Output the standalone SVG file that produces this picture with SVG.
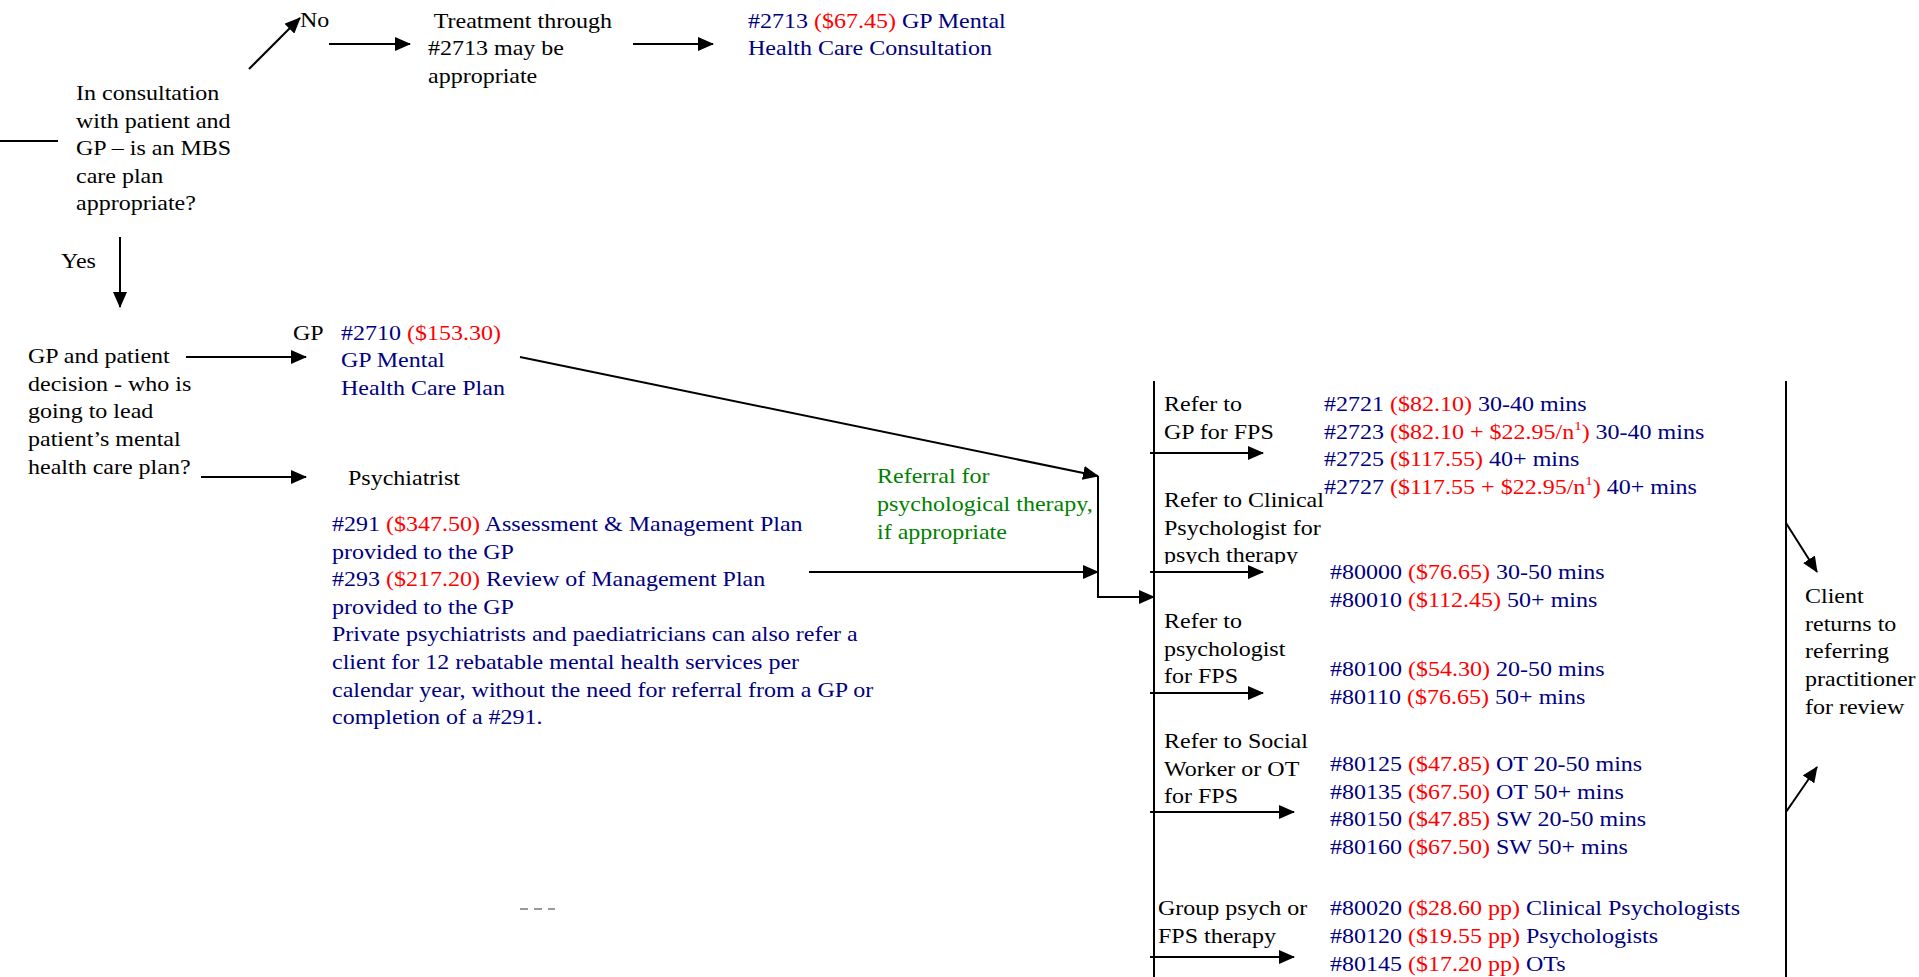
<svg xmlns="http://www.w3.org/2000/svg" width="1919" height="977" viewBox="0 0 1919 977">
<defs>
<style>
text{font-family:"Liberation Serif","Times New Roman",serif;font-size:21px;fill:#000}
.b{fill:#000080}.r{fill:#ff0000}.g{fill:#008000}.k{fill:#000}
.ln{stroke:#000;stroke-width:2;fill:none}
.ar{stroke:#000;stroke-width:2;fill:none;marker-end:url(#ah)}
.sup{font-size:13px}
</style>
<marker id="ah" markerUnits="userSpaceOnUse" markerWidth="16" markerHeight="14" refX="15" refY="7" orient="auto">
<path d="M0,0 L16,7 L0,14 z" fill="#000"/>
</marker>
<clipPath id="clipClin" clipPathUnits="userSpaceOnUse"><rect x="1150" y="480" width="200" height="84"/></clipPath>
</defs>
<rect width="1919" height="977" fill="#fff"/>

<g id="connectors">
<line class="ln" x1="0" y1="141" x2="58" y2="141"/>
<line class="ar" x1="249" y1="69" x2="300" y2="18"/>
<line class="ar" x1="329" y1="44" x2="410" y2="44"/>
<line class="ar" x1="633" y1="44" x2="713" y2="44"/>
<line class="ar" x1="120" y1="237" x2="120" y2="307"/>
<line class="ar" x1="186" y1="357" x2="306" y2="357"/>
<line class="ar" x1="201" y1="477" x2="306" y2="477"/>
<line class="ar" x1="520" y1="357" x2="1098" y2="476"/>
<line class="ar" x1="809" y1="572" x2="1098" y2="572"/>
<polyline class="ar" points="1098,476 1098,597 1154,597"/>
<line class="ln" x1="1154" y1="381" x2="1154" y2="977"/>
<line class="ln" x1="1786" y1="381" x2="1786" y2="977"/>
<line class="ar" x1="1150" y1="453" x2="1263" y2="453"/>
<line class="ar" x1="1150" y1="572" x2="1263" y2="572"/>
<line class="ar" x1="1150" y1="693" x2="1263" y2="693"/>
<line class="ar" x1="1150" y1="812" x2="1294" y2="812"/>
<line class="ar" x1="1150" y1="957" x2="1294" y2="957"/>
<line class="ar" x1="1786" y1="523" x2="1817" y2="572"/>
<line class="ar" x1="1786" y1="812" x2="1817" y2="767"/>
<line x1="520" y1="909" x2="555" y2="909" stroke="#999" stroke-width="2" stroke-dasharray="8,6"/>
</g>

<g id="n-consult" transform="translate(76,100) scale(1.143,1)"><text>
<tspan x="0" y="0">In consultation</tspan><tspan x="0" y="27.6">with patient and</tspan><tspan x="0" y="55.2">GP – is an MBS</tspan><tspan x="0" y="82.8">care plan</tspan><tspan x="0" y="110.4">appropriate?</tspan>
</text></g>

<g id="n-no" transform="translate(300,27) scale(1.143,1)"><text x="0" y="0">No</text></g>

<g id="n-treatment" transform="translate(428,28) scale(1.143,1)"><text>
<tspan x="5" y="0">Treatment through</tspan><tspan x="0" y="27.3">#2713 may be</tspan><tspan x="0" y="54.6">appropriate</tspan>
</text></g>

<g id="n-2713" transform="translate(748,28) scale(1.143,1)"><text class="b">
<tspan x="0" y="0">#2713 <tspan class="r">($67.45)</tspan> GP Mental</tspan><tspan x="0" y="27.3">Health Care Consultation</tspan>
</text></g>

<g id="n-yes" transform="translate(61,268) scale(1.143,1)"><text x="0" y="0">Yes</text></g>

<g id="n-decision" transform="translate(28,363) scale(1.143,1)"><text>
<tspan x="0" y="0">GP and patient</tspan><tspan x="0" y="27.7">decision - who is</tspan><tspan x="0" y="55.4">going to lead</tspan><tspan x="0" y="83.1">patient’s mental</tspan><tspan x="0" y="110.8">health care plan?</tspan>
</text></g>

<g id="n-gp" transform="translate(293,340) scale(1.143,1)"><text x="0" y="0">GP</text></g>

<g id="n-2710" transform="translate(341,340) scale(1.143,1)"><text class="b">
<tspan x="0" y="0">#2710 <tspan class="r">($153.30)</tspan></tspan><tspan x="0" y="27.3">GP Mental</tspan><tspan x="0" y="54.6">Health Care Plan</tspan>
</text></g>

<g id="n-psychiatrist" transform="translate(348,485) scale(1.143,1)"><text x="0" y="0">Psychiatrist</text></g>

<g id="n-291" transform="translate(332,531) scale(1.143,1)"><text class="b">
<tspan x="0" y="0">#291 <tspan class="r">($347.50)</tspan> Assessment &amp; Management Plan</tspan>
<tspan x="0" y="27.6">provided to the GP</tspan>
<tspan x="0" y="55.2">#293 <tspan class="r">($217.20)</tspan> Review of Management Plan</tspan>
<tspan x="0" y="82.8">provided to the GP</tspan>
<tspan x="0" y="110.4">Private psychiatrists and paediatricians can also refer a</tspan>
<tspan x="0" y="138">client for 12 rebatable mental health services per</tspan>
<tspan x="0" y="165.6">calendar year, without the need for referral from a GP or</tspan>
<tspan x="0" y="193.2">completion of a #291.</tspan>
</text></g>

<g id="n-referral" transform="translate(877,483) scale(1.143,1)"><text class="g">
<tspan x="0" y="0">Referral for</tspan><tspan x="0" y="28">psychological therapy,</tspan><tspan x="0" y="56">if appropriate</tspan>
</text></g>

<g id="n-refer-gp" transform="translate(1164,411) scale(1.143,1)"><text>
<tspan x="0" y="0">Refer to</tspan><tspan x="0" y="28">GP for FPS</tspan>
</text></g>

<g id="n-2721" transform="translate(1324,411) scale(1.143,1)"><text class="b">
<tspan x="0" y="0">#2721 <tspan class="r">($82.10)</tspan> 30-40 mins</tspan>
<tspan x="0" y="27.7">#2723 <tspan class="r">($82.10 + $22.95/n<tspan class="sup" dy="-9">1</tspan><tspan dy="9">)</tspan></tspan> 30-40 mins</tspan>
<tspan x="0" y="55.4">#2725 <tspan class="r">($117.55)</tspan> 40+ mins</tspan>
<tspan x="0" y="83.1">#2727 <tspan class="r">($117.55 + $22.95/n<tspan class="sup" dy="-9">1</tspan><tspan dy="9">)</tspan></tspan> 40+ mins</tspan>
</text></g>

<g id="n-refer-clinical" clip-path="url(#clipClin)"><g transform="translate(1164,507) scale(1.143,1)"><text>
<tspan x="0" y="0">Refer to Clinical</tspan><tspan x="0" y="27.6">Psychologist for</tspan><tspan x="0" y="55.2">psych therapy</tspan>
</text></g></g>

<g id="n-80000" transform="translate(1330,579) scale(1.143,1)"><text class="b">
<tspan x="0" y="0">#80000 <tspan class="r">($76.65)</tspan> 30-50 mins</tspan>
<tspan x="0" y="28">#80010 <tspan class="r">($112.45)</tspan> 50+ mins</tspan>
</text></g>

<g id="n-refer-psych" transform="translate(1164,628) scale(1.143,1)"><text>
<tspan x="0" y="0">Refer to</tspan><tspan x="0" y="27.6">psychologist</tspan><tspan x="0" y="55.2">for FPS</tspan>
</text></g>

<g id="n-80100" transform="translate(1330,676) scale(1.143,1)"><text class="b">
<tspan x="0" y="0">#80100 <tspan class="r">($54.30)</tspan> 20-50 mins</tspan>
<tspan x="0" y="28">#80110 <tspan class="r">($76.65)</tspan> 50+ mins</tspan>
</text></g>

<g id="n-refer-sw" transform="translate(1164,748) scale(1.143,1)"><text>
<tspan x="0" y="0">Refer to Social</tspan><tspan x="0" y="27.6">Worker or OT</tspan><tspan x="0" y="55.2">for FPS</tspan>
</text></g>

<g id="n-80125" transform="translate(1330,771) scale(1.143,1)"><text class="b">
<tspan x="0" y="0">#80125 <tspan class="r">($47.85)</tspan> OT 20-50 mins</tspan>
<tspan x="0" y="27.7">#80135 <tspan class="r">($67.50)</tspan> OT 50+ mins</tspan>
<tspan x="0" y="55.4">#80150 <tspan class="r">($47.85)</tspan> SW 20-50 mins</tspan>
<tspan x="0" y="83.1">#80160 <tspan class="r">($67.50)</tspan> SW 50+ mins</tspan>
</text></g>

<g id="n-group" transform="translate(1158,915) scale(1.143,1)"><text>
<tspan x="0" y="0">Group psych or</tspan><tspan x="0" y="28">FPS therapy</tspan>
</text></g>

<g id="n-80020" transform="translate(1330,915) scale(1.143,1)"><text class="b">
<tspan x="0" y="0">#80020 <tspan class="r">($28.60 pp)</tspan> Clinical Psychologists</tspan>
<tspan x="0" y="28">#80120 <tspan class="r">($19.55 pp)</tspan> Psychologists</tspan>
<tspan x="0" y="56">#80145 <tspan class="r">($17.20 pp)</tspan> OTs</tspan>
</text></g>

<g id="n-client" transform="translate(1805,603) scale(1.143,1)"><text>
<tspan x="0" y="0">Client</tspan><tspan x="0" y="27.7">returns to</tspan><tspan x="0" y="55.4">referring</tspan><tspan x="0" y="83.1">practitioner</tspan><tspan x="0" y="110.8">for review</tspan>
</text></g>
</svg>
